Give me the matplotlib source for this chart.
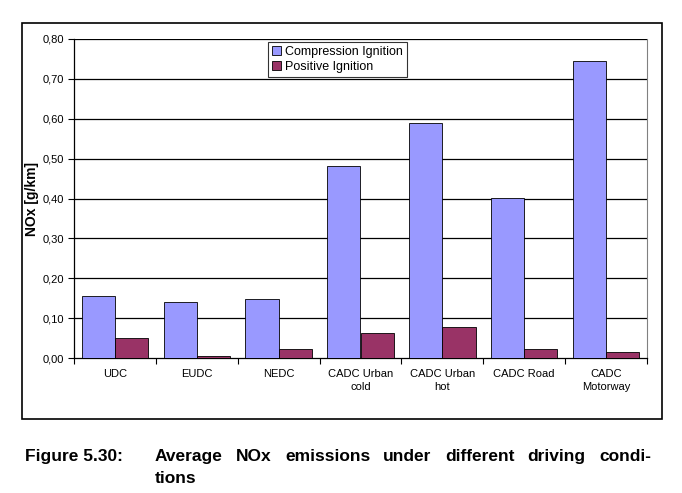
import matplotlib
matplotlib.use("Agg")
import matplotlib.pyplot as plt
import numpy as np
from matplotlib.patches import Rectangle

categories = ["UDC", "EUDC", "NEDC", "CADC Urban\ncold", "CADC Urban\nhot", "CADC Road", "CADC\nMotorway"]
compression = [0.155, 0.141, 0.147, 0.481, 0.589, 0.402, 0.745]
positive = [0.049, 0.005, 0.022, 0.062, 0.077, 0.023, 0.015]
yticks = [0.0, 0.1, 0.2, 0.3, 0.4, 0.5, 0.6, 0.7, 0.8]
ytick_labels = ["0,00", "0,10", "0,20", "0,30", "0,40", "0,50", "0,60", "0,70", "0,80"]

plt.rcParams['font.family'] = ['Liberation Sans', 'DejaVu Sans']

W, H = 682, 493
fig = plt.figure(figsize=(W/100, H/100), dpi=100)
fig.patch.set_facecolor('white')

# outer frame
fig.patches.append(Rectangle((22/W, (H-419)/H), (662-22)/W, (419-23)/H,
                             transform=fig.transFigure, fill=False, edgecolor='black', linewidth=1.2))

ax = fig.add_axes([74/W, (H-358)/H, (647-74)/W, (358-39)/H])
x = np.arange(len(categories))
w = 0.405
ax.bar(x - w/2, compression, w, color='#9999FF', edgecolor='black', linewidth=0.6,
       label='Compression Ignition', zorder=3)
ax.bar(x + w/2, positive, w, color='#993366', edgecolor='black', linewidth=0.6,
       label='Positive Ignition', zorder=3)

ax.set_xlim(-0.5, len(categories) - 0.5)
ax.set_ylim(0, 0.8)
ax.set_yticks(yticks)
ax.set_yticklabels(ytick_labels, fontsize=8)
ax.set_xticks(x)
ax.set_xticklabels(categories, fontsize=8, linespacing=1.3)
ax.set_xticks(np.arange(-0.5, len(categories), 1), minor=True)
ax.tick_params(axis='x', which='major', length=0, pad=8)
ax.tick_params(axis='x', which='minor', length=4, width=0.8, direction='out')
ax.tick_params(axis='y', length=4, width=0.8, direction='out', pad=3)
for yv in yticks[1:]:
    ax.axhline(yv, color='black', linewidth=0.9, zorder=1)

ax.spines['top'].set_visible(False)
ax.spines['right'].set_color('#808080')
ax.spines['left'].set_linewidth(0.9)
ax.spines['bottom'].set_linewidth(0.9)

ax.set_ylabel('NOx [g/km]', fontsize=10, fontweight='bold', labelpad=3)

leg = ax.legend(loc='upper left', bbox_to_anchor=((268-74)/573, (358-42)/319), fontsize=9,
                frameon=True, fancybox=False, borderpad=0.3, handlelength=0.75, handleheight=0.75,
                handletextpad=0.3, labelspacing=0.25, borderaxespad=0)
leg.get_frame().set_edgecolor('black')
leg.get_frame().set_linewidth(0.8)
leg.set_zorder(5)

# caption (justified first line)
fs = 12.5
by1 = 1 - 461/H
by2 = 1 - 483/H
fig.text(25/W, by1, "Figure 5.30:", fontsize=fs, fontweight='bold', va='baseline', ha='left')
words = ["Average", "NOx", "emissions", "under", "different", "driving", "condi-"]
x_start, x_end = 155, 651
renderer = fig.canvas.get_renderer()
texts = [fig.text(0, by1, wd, fontsize=fs, fontweight='bold', va='baseline', ha='left') for wd in words]
widths = [t.get_window_extent(renderer=renderer).width for t in texts]
gap = (x_end - x_start - sum(widths)) / (len(words) - 1)
cur = x_start
for t, wdt in zip(texts, widths):
    t.set_x(cur / W)
    cur += wdt + gap
fig.text(x_start/W, by2, "tions", fontsize=fs, fontweight='bold', va='baseline', ha='left')

fig.savefig('out.png', dpi=100, facecolor='white')
